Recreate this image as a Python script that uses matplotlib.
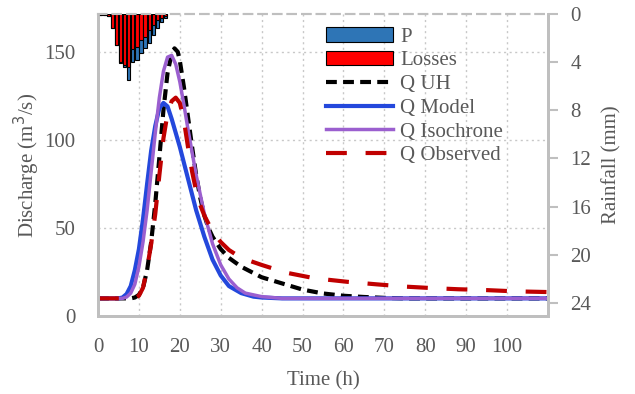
import matplotlib
matplotlib.use("Agg")
import matplotlib.pyplot as plt
import numpy as np

# Rainfall bars (time in h, mm)
rain_t = [0.5, 1.5, 2.5, 3.5, 4.5, 5.5, 6.5, 7.5, 8.5, 9.5, 10.5, 11.5, 12.5, 13.5, 14.5, 15.5, 16.5]
rain_p = [0.1, 0.1, 0.15, 1.2, 2.6, 4.1, 4.4, 5.5, 4.0, 3.8, 3.25, 2.8, 2.4, 1.75, 1.15, 0.65, 0.35]
rain_loss = [0.1, 0.1, 0.15, 1.2, 2.6, 4.0, 4.2, 4.4, 2.9, 2.75, 2.2, 1.9, 1.3, 0.9, 0.5, 0.3, 0.2]

# Q UH
uh_t = [0, 8, 9, 10, 11, 12, 13, 14, 15, 16, 17, 18, 18.7, 19.5, 20, 21, 22, 23, 24, 25, 26, 27, 28, 30, 32, 35,
        40, 45, 50, 55, 60, 65, 70, 75, 110]
uh_q = [10, 10, 10.5, 12, 16, 26, 42, 64, 90, 117, 138, 149, 152, 150, 145, 130, 113, 96, 80, 67, 57, 50, 45, 38,
        33, 28, 22, 18.5, 15, 12.8, 11.5, 10.8, 10.3, 10, 10]
# Q Model
mod_t = [0, 5, 6, 7, 8, 9, 10, 11, 12, 13, 14, 15, 16, 17, 18, 19, 20, 22, 24, 26, 28, 30, 32, 35, 38, 40, 45, 110]
mod_q = [10, 10, 10.5, 12.5, 17, 26, 38, 55, 75, 94, 108, 118, 121, 119, 112, 104, 96, 78, 60, 45, 32, 23, 17, 13,
         11, 10.5, 10, 10]
# Q Isochrone
iso_t = [0, 6, 7, 8, 9, 10, 11, 12, 13, 14, 15, 16, 17, 18, 19, 20, 21, 22, 24, 26, 28, 30, 32, 34, 36, 40, 45, 110]
iso_q = [10, 10, 10.8, 13, 18, 28, 42, 60, 82, 104, 124, 139, 147, 148, 143, 133, 120, 106, 80, 58, 41, 29, 21, 16,
         13, 11, 10, 10]
# Q Observed
obs_t = [0, 9, 10, 11, 12, 13, 14, 15, 16, 17, 18, 19, 20, 21, 22, 23, 24, 25, 26, 28, 30, 32, 35, 40, 46, 53, 61,
         68, 75, 82, 88, 95, 102, 110]
obs_q = [10, 10, 11.5, 16, 27, 41, 58, 80, 101, 115, 122, 124, 121, 111, 96, 82, 71, 63, 57, 48, 42, 37.5, 33, 29,
         24.6, 21.4, 19.4, 18, 16.7, 15.8, 15.2, 14.7, 14, 13.6]

x_ticks = [0, 10, 20, 30, 40, 50, 60, 70, 80, 90, 100]
q_ticks = [0, 50, 100, 150]
r_ticks = [0, 4, 8, 12, 16, 20, 24]

gray = "#595959"
spine = "#bfbfbf"
plt.rcParams['font.family'] = ['Liberation Serif', 'DejaVu Serif']
plt.rcParams['font.size'] = 15
plt.rcParams['text.color'] = gray
plt.rcParams['axes.labelcolor'] = gray
plt.rcParams['xtick.color'] = gray
plt.rcParams['ytick.color'] = gray

fig = plt.figure(figsize=(6.35, 3.94), dpi=100)
ax = fig.add_axes([98 / 635, 1 - 316 / 394, 450 / 635, 302 / 394])
ax2 = ax.twinx()

h_uh, = ax.plot(uh_t, uh_q, color="black", lw=3, dashes=(2.6, 1.5), label="Q UH")
h_mod, = ax.plot(mod_t, mod_q, color="#2448dc", lw=3, label="Q Model")
h_iso, = ax.plot(iso_t, iso_q, color="#9b5fcf", lw=2.5, label="Q Isochrone")
h_obs, = ax.plot(obs_t, obs_q, color="#c00000", lw=3, dashes=(5, 4.5), label="Q Observed")

ax.set_xlim(0, 110)
ax.set_ylim(0, 171.5)
ax.set_xticks(x_ticks)
ax.set_yticks(q_ticks)
ax.grid(True, color="#c8c8c8", linestyle=(0, (1.5, 2.5)), lw=1)
ax.tick_params(axis="both", length=0, pad=16)
ax.set_xlabel("Time (h)", labelpad=10)
ax.set_ylabel("Discharge (m$^3$/s)", labelpad=2)

b_p = ax2.bar(rain_t, rain_p, width=0.8, color="#2e75b6", edgecolor="black", lw=0.8, label="P")
b_l = ax2.bar(rain_t, rain_loss, width=0.8, color="#ff0000", edgecolor="black", lw=0.8, label="Losses")
ax2.set_ylim(25.1, 0)
ax2.set_yticks(r_ticks)
ax2.tick_params(axis="y", length=7, width=1.5, color=spine, pad=9)
ax2.set_ylabel("Rainfall (mm)", labelpad=8)

for a in (ax, ax2):
    for s in ("left", "right", "bottom"):
        a.spines[s].set_color(spine)
        a.spines[s].set_linewidth(2)
    a.spines["top"].set_color(spine)
    a.spines["top"].set_linewidth(1.5)
    a.spines["top"].set_linestyle((0, (4, 3)))

leg = ax2.legend([b_p, b_l, h_uh, h_mod, h_iso, h_obs],
                 ["P", "Losses", "Q UH", "Q Model", "Q Isochrone", "Q Observed"],
                 loc="upper left", bbox_to_anchor=(326 / 635, 1 - 27 / 394),
                 bbox_transform=fig.transFigure, frameon=False,
                 handlelength=3.2, handletextpad=0.35, labelspacing=0.2,
                 borderaxespad=0, borderpad=0)

fig.savefig("out.png", dpi=100)
